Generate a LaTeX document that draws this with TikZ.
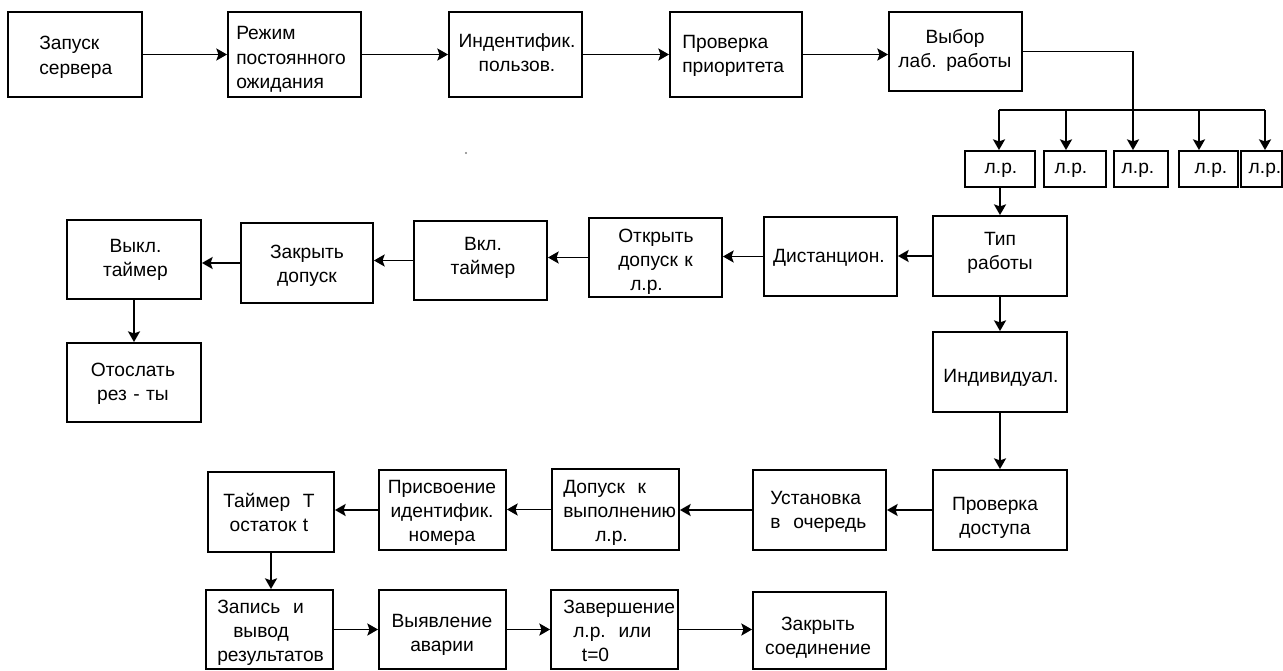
\documentclass[tikz,border=0pt]{standalone}
\usepackage{fontspec}
\setmainfont{Liberation Sans}
\usetikzlibrary{arrows.meta,fit}
\tikzset{
  px/.style={x=0.75pt,y=-0.75pt},
  box/.style={draw,line width=1.4pt,inner sep=0pt},
  txt/.style={inner sep=0pt,font=\fontsize{14.4}{18}\selectfont,text width=135pt},
  lt/.style={txt,align=left,anchor=base west},
  ct/.style={txt,align=center,anchor=base},
  arr/.style={line width=1.4pt,-{Stealth[length=8pt,width=9pt,inset=1.5pt]}},
  ln/.style={line width=1.4pt}
}
\begin{document}
\begin{tikzpicture}[px]
\useasboundingbox (0,0) rectangle (1283,671);
% boxes
\node[box,fit={(8,12) (142,97)}] (zs) {};
\node[box,fit={(228,12) (361,97)}] (rz) {};
\node[box,fit={(449,12) (582,97)}] (id) {};
\node[box,fit={(670,12) (802,97)}] (pp) {};
\node[box,fit={(889,12) (1022,91)}] (vb) {};
\node[box,fit={(965,151) (1035,187)}] (lr1) {};
\node[box,fit={(1044,151) (1106,187)}] (lr2) {};
\node[box,fit={(1114,151) (1168,187)}] (lr3) {};
\node[box,fit={(1179,151) (1238,187)}] (lr4) {};
\node[box,fit={(1241,151) (1282,187)}] (lr5) {};
\node[box,fit={(933,216) (1067,296)}] (tip) {};
\node[box,fit={(933,332) (1067,412)}] (ind) {};
\node[box,fit={(933,470) (1067,550)}] (pd) {};
\node[box,fit={(764,217) (897,296)}] (dist) {};
\node[box,fit={(589,218) (722,297)}] (otk) {};
\node[box,fit={(414,221) (547,300)}] (vkl) {};
\node[box,fit={(241,223) (373,303)}] (zd) {};
\node[box,fit={(67,220) (201,299)}] (vyk) {};
\node[box,fit={(67,343) (201,422)}] (ots) {};
\node[box,fit={(208,472) (334,552)}] (tim) {};
\node[box,fit={(379,470) (506,550)}] (prs) {};
\node[box,fit={(552,469) (679,550)}] (dop) {};
\node[box,fit={(753,470) (886,550)}] (ust) {};
\node[box,fit={(206,590) (333,669)}] (zap) {};
\node[box,fit={(379,590) (506,669)}] (vyy) {};
\node[box,fit={(551,590) (678,669)}] (zav) {};
\node[box,fit={(753,592) (886,669)}] (zsd) {};
% texts
\node[lt] (t-zs) at (39,50) {Запуск\\сервера};
\node[lt] (t-rz) at (236,40) {Режим\\постоянного\\ожидания};
\node[ct] (t-id) at (517,47) {Индентифик.\\пользов.};
\node[lt] (t-pp) at (682,48) {Проверка\\приоритета};
\node[ct] (t-vb) at (955,43) {Выбор\\лаб. работы};
\node[ct] (t-lr1) at (1001,173) {л.р.};
\node[ct] (t-lr2) at (1071,173) {л.р.};
\node[ct] (t-lr3) at (1138,173) {л.р.};
\node[ct] (t-lr4) at (1211,173) {л.р.};
\node[ct] (t-lr5) at (1265,173) {л.р.};
\node[ct] (t-tip) at (1000,245) {Тип\\работы};
\node[ct] (t-ind) at (1001,382) {Индивидуал.};
\node[ct] (t-pd) at (995,510) {Проверка\\доступа};
\node[ct] (t-dist) at (829,262) {Дистанцион.};
\node[lt] (t-otk) at (618,242) {Открыть\\допуск к\\\hspace*{9pt}л.р.};
\node[ct] (t-vkl) at (483,250) {Вкл.\\таймер};
\node[ct] (t-zd) at (307,258) {Закрыть\\допуск};
\node[ct] (t-vyk) at (135.5,252) {Выкл.\\таймер};
\node[ct] (t-ots) at (133,376) {Отослать\\рез - ты};
\node[ct] (t-tim) at (269,507) {Таймер\ \ Т\\остаток t};
\node[ct] (t-prs) at (442,493) {Присвоение\\идентифик.\\номера};
\node[lt] (t-dop) at (563,493) {Допуск\ \ к\\выполнению\\\hspace*{24pt}л.р.};
\node[lt] (t-ust) at (770,504) {Установка\\в\ \ очередь};
\node[lt] (t-zap) at (217,613) {Запись\ \ и\\\hspace*{12pt}вывод\\результатов};
\node[ct] (t-vyy) at (442,627) {Выявление\\аварии};
\node[lt] (t-zav) at (563,613) {Завершение\\\hspace*{7.5pt}л.р.\ \ или\\\hspace*{14pt}t=0};
\node[ct] (t-zsd) at (818,630) {Закрыть\\соединение};
% top row
\draw[arr] (zs.east) -- (zs.east -| rz.west);
\draw[arr] (rz.east) -- (rz.east -| id.west);
\draw[arr] (id.east) -- (id.east -| pp.west);
\draw[arr] (pp.east) -- (pp.east -| vb.west);
% bus
\coordinate (b1) at (999,110);
\coordinate (b2) at (1066,110);
\coordinate (b3) at (1133,110);
\coordinate (b4) at (1199,110);
\coordinate (b5) at (1265,110);
\draw[ln] (vb.east) -| (b3);
\draw[ln] (b1) -- (b5);
\draw[arr] (b1) -- (b1 |- lr1.north);
\draw[arr] (b2) -- (b2 |- lr2.north);
\draw[arr] (b3) -- (b3 |- lr3.north);
\draw[arr] (b4) -- (b4 |- lr4.north);
\draw[arr] (b5) -- (b5 |- lr5.north);
\draw[arr] (lr1.south) -- (lr1.south |- tip.north);
% middle row
\draw[arr] (tip.west) -- (tip.west -| dist.east);
\draw[arr] (dist.west) -- (dist.west -| otk.east);
\draw[arr] (otk.west) -- (otk.west -| vkl.east);
\draw[arr] (vkl.west) -- (vkl.west -| zd.east);
\draw[arr] (zd.west) -- (zd.west -| vyk.east);
\draw[arr] (vyk.south) -- (vyk.south |- ots.north);
% right column
\draw[arr] (tip.south) -- (ind.north);
\draw[arr] (ind.south) -- (pd.north);
% lower row
\draw[arr] (pd.west) -- (pd.west -| ust.east);
\draw[arr] (ust.west) -- (ust.west -| dop.east);
\draw[arr] (dop.west) -- (dop.west -| prs.east);
\draw[arr] (prs.west) -- (prs.west -| tim.east);
\draw[arr] (tim.south) -- (tim.south |- zap.north);
% bottom row
\draw[arr] (zap.east) -- (zap.east -| vyy.west);
\draw[arr] (vyy.east) -- (vyy.east -| zav.west);
\draw[arr] (zav.east) -- (zav.east -| zsd.west);
% stray dot
\fill[gray] (466,153) circle (0.8pt);
\end{tikzpicture}
\end{document}
